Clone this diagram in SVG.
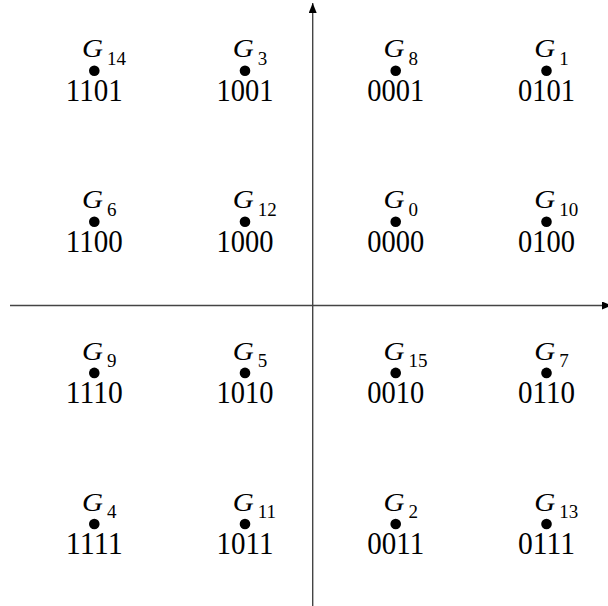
<svg xmlns="http://www.w3.org/2000/svg" width="608" height="606" viewBox="0 0 608 606">
<style>
.g{font-family:"Liberation Serif","DejaVu Serif",serif;font-style:italic;font-size:25px;fill:#000}
.s{font-family:"Liberation Serif","DejaVu Serif",serif;font-size:19px;fill:#000}
.b{font-family:"Liberation Serif","DejaVu Serif",serif;font-size:31px;fill:#000;text-anchor:middle}
.ax{stroke:#444;stroke-width:1.4;fill:none}
</style>
<defs>
<marker id="ah" viewBox="0 0 10 8" refX="10" refY="4" markerWidth="10" markerHeight="8" markerUnits="userSpaceOnUse" orient="auto">
<path d="M0,0 L10,4 L0,8 Z" fill="#000"/>
</marker>
</defs>
<g id="axes">
<line class="ax" x1="10" y1="305.5" x2="612" y2="305.5" marker-end="url(#ah)"/>
<line class="ax" x1="312.7" y1="606" x2="312.7" y2="3" marker-end="url(#ah)"/>
</g>
<g id="n14"><circle cx="94.3" cy="70.7" r="5.3"/><text class="g" x="82" y="57.3" textLength="21" lengthAdjust="spacingAndGlyphs">G</text><text class="s" x="107" y="64.7">14</text><text class="b" x="94.3" y="101" textLength="57" lengthAdjust="spacingAndGlyphs">1101</text></g>
<g id="n3"><circle cx="245" cy="70.7" r="5.3"/><text class="g" x="232.7" y="57.3" textLength="21" lengthAdjust="spacingAndGlyphs">G</text><text class="s" x="257.7" y="64.7">3</text><text class="b" x="245" y="101" textLength="57" lengthAdjust="spacingAndGlyphs">1001</text></g>
<g id="n8"><circle cx="395.7" cy="70.7" r="5.3"/><text class="g" x="383.4" y="57.3" textLength="21" lengthAdjust="spacingAndGlyphs">G</text><text class="s" x="408.4" y="64.7">8</text><text class="b" x="395.7" y="101" textLength="57" lengthAdjust="spacingAndGlyphs">0001</text></g>
<g id="n1"><circle cx="546.5" cy="70.7" r="5.3"/><text class="g" x="534.2" y="57.3" textLength="21" lengthAdjust="spacingAndGlyphs">G</text><text class="s" x="559.2" y="64.7">1</text><text class="b" x="546.5" y="101" textLength="57" lengthAdjust="spacingAndGlyphs">0101</text></g>

<g id="n6"><circle cx="94.3" cy="221.8" r="5.3"/><text class="g" x="82" y="208.4" textLength="21" lengthAdjust="spacingAndGlyphs">G</text><text class="s" x="107" y="215.8">6</text><text class="b" x="94.3" y="252.1" textLength="57" lengthAdjust="spacingAndGlyphs">1100</text></g>
<g id="n12"><circle cx="245" cy="221.8" r="5.3"/><text class="g" x="232.7" y="208.4" textLength="21" lengthAdjust="spacingAndGlyphs">G</text><text class="s" x="257.7" y="215.8">12</text><text class="b" x="245" y="252.1" textLength="57" lengthAdjust="spacingAndGlyphs">1000</text></g>
<g id="n0"><circle cx="395.7" cy="221.8" r="5.3"/><text class="g" x="383.4" y="208.4" textLength="21" lengthAdjust="spacingAndGlyphs">G</text><text class="s" x="408.4" y="215.8">0</text><text class="b" x="395.7" y="252.1" textLength="57" lengthAdjust="spacingAndGlyphs">0000</text></g>
<g id="n10"><circle cx="546.5" cy="221.8" r="5.3"/><text class="g" x="534.2" y="208.4" textLength="21" lengthAdjust="spacingAndGlyphs">G</text><text class="s" x="559.2" y="215.8">10</text><text class="b" x="546.5" y="252.1" textLength="57" lengthAdjust="spacingAndGlyphs">0100</text></g>

<g id="n9"><circle cx="94.3" cy="372.9" r="5.3"/><text class="g" x="82" y="359.5" textLength="21" lengthAdjust="spacingAndGlyphs">G</text><text class="s" x="107" y="366.9">9</text><text class="b" x="94.3" y="403.2" textLength="57" lengthAdjust="spacingAndGlyphs">1110</text></g>
<g id="n5"><circle cx="245" cy="372.9" r="5.3"/><text class="g" x="232.7" y="359.5" textLength="21" lengthAdjust="spacingAndGlyphs">G</text><text class="s" x="257.7" y="366.9">5</text><text class="b" x="245" y="403.2" textLength="57" lengthAdjust="spacingAndGlyphs">1010</text></g>
<g id="n15"><circle cx="395.7" cy="372.9" r="5.3"/><text class="g" x="383.4" y="359.5" textLength="21" lengthAdjust="spacingAndGlyphs">G</text><text class="s" x="408.4" y="366.9">15</text><text class="b" x="395.7" y="403.2" textLength="57" lengthAdjust="spacingAndGlyphs">0010</text></g>
<g id="n7"><circle cx="546.5" cy="372.9" r="5.3"/><text class="g" x="534.2" y="359.5" textLength="21" lengthAdjust="spacingAndGlyphs">G</text><text class="s" x="559.2" y="366.9">7</text><text class="b" x="546.5" y="403.2" textLength="57" lengthAdjust="spacingAndGlyphs">0110</text></g>

<g id="n4"><circle cx="94.3" cy="524" r="5.3"/><text class="g" x="82" y="510.6" textLength="21" lengthAdjust="spacingAndGlyphs">G</text><text class="s" x="107" y="518">4</text><text class="b" x="94.3" y="554.3" textLength="57" lengthAdjust="spacingAndGlyphs">1111</text></g>
<g id="n11"><circle cx="245" cy="524" r="5.3"/><text class="g" x="232.7" y="510.6" textLength="21" lengthAdjust="spacingAndGlyphs">G</text><text class="s" x="257.7" y="518">11</text><text class="b" x="245" y="554.3" textLength="57" lengthAdjust="spacingAndGlyphs">1011</text></g>
<g id="n2"><circle cx="395.7" cy="524" r="5.3"/><text class="g" x="383.4" y="510.6" textLength="21" lengthAdjust="spacingAndGlyphs">G</text><text class="s" x="408.4" y="518">2</text><text class="b" x="395.7" y="554.3" textLength="57" lengthAdjust="spacingAndGlyphs">0011</text></g>
<g id="n13"><circle cx="546.5" cy="524" r="5.3"/><text class="g" x="534.2" y="510.6" textLength="21" lengthAdjust="spacingAndGlyphs">G</text><text class="s" x="559.2" y="518">13</text><text class="b" x="546.5" y="554.3" textLength="57" lengthAdjust="spacingAndGlyphs">0111</text></g>
</svg>
